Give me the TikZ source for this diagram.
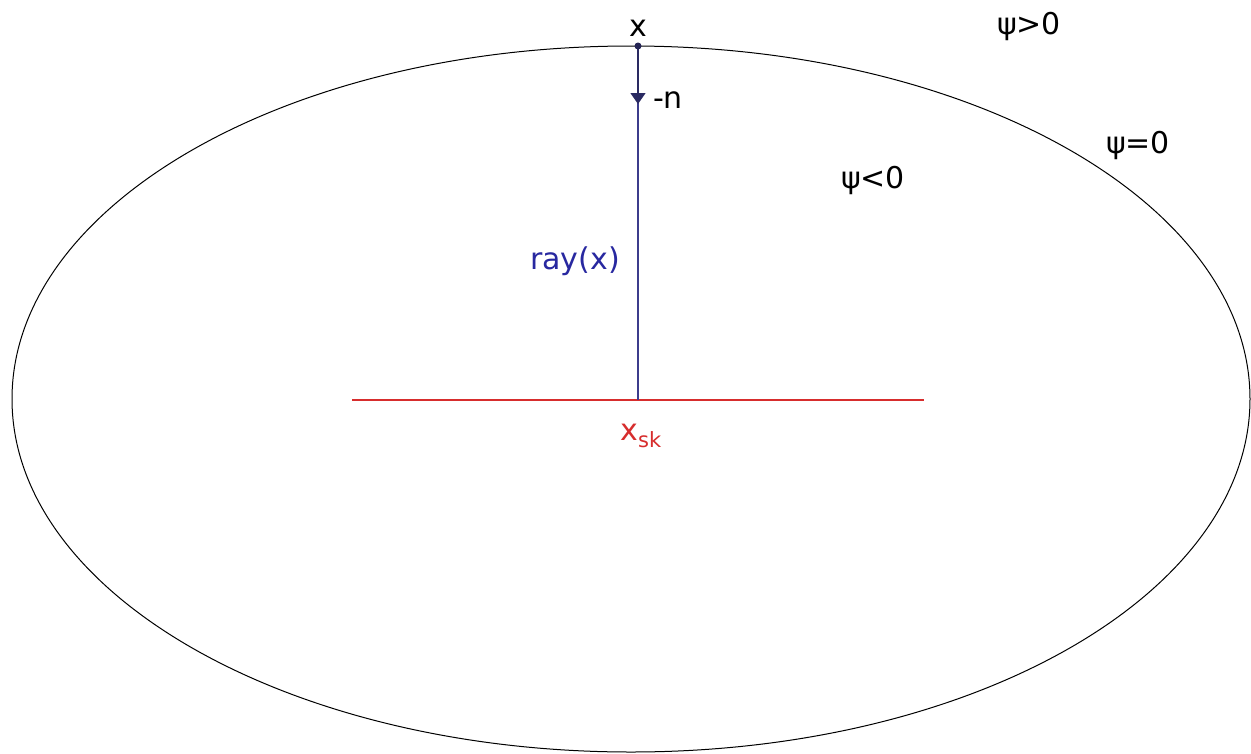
\documentclass[tikz,border=0pt]{standalone}
\usepackage{fontspec}
\setmainfont{DejaVu Sans}
\usetikzlibrary{arrows.meta}
\definecolor{rayblue}{RGB}{40,40,160}
\definecolor{navyline}{RGB}{60,60,140}
\definecolor{skred}{RGB}{215,45,45}
\begin{document}
\begin{tikzpicture}[x=1pt,y=-1pt,
  lbl/.style={inner sep=0pt,font=\fontsize{30}{36}\selectfont},
  surface/.style={draw=black,line width=1pt},
  rayline/.style={draw=navyline,line width=1.3pt},
  skline/.style={draw=skred,line width=1.3pt}]
\useasboundingbox (0,0) rectangle (1251,753);
\fill[white] (0,0) rectangle (1251,753);
% surface psi = 0
\draw[surface] (631,399) ellipse [x radius=619, y radius=353];
% ray
\coordinate (X) at (638,46);
\coordinate (S) at (638,400);
\coordinate (N) at (638,104);
\coordinate (SkL) at (352,400);
\coordinate (SkR) at (924,400);
\draw[skline] (SkL) -- (SkR);
\draw[rayline] (X) -- (S);
\draw[draw=navyline!70!black,line width=1.3pt,-{Triangle[width=15pt,length=11pt]}] (X) -- (N);
\fill[navyline!60!black] (X) circle (3.5);
% labels
\node[lbl] (xl) at (638,28) {x};
\node[lbl] (nl) at (668,100) {-n};
\node[lbl,text=rayblue] (ray) at (575,261) {ray(x)};
\node[lbl,text=skred] (xsk) at (641,436) {x\textsubscript{sk}};
\node[lbl] (neg) at (873,180) {ψ<0};
\node[lbl] (pos) at (1029,26) {ψ>0};
\node[lbl] (zero) at (1138,145) {ψ=0};
\end{tikzpicture}
\end{document}
